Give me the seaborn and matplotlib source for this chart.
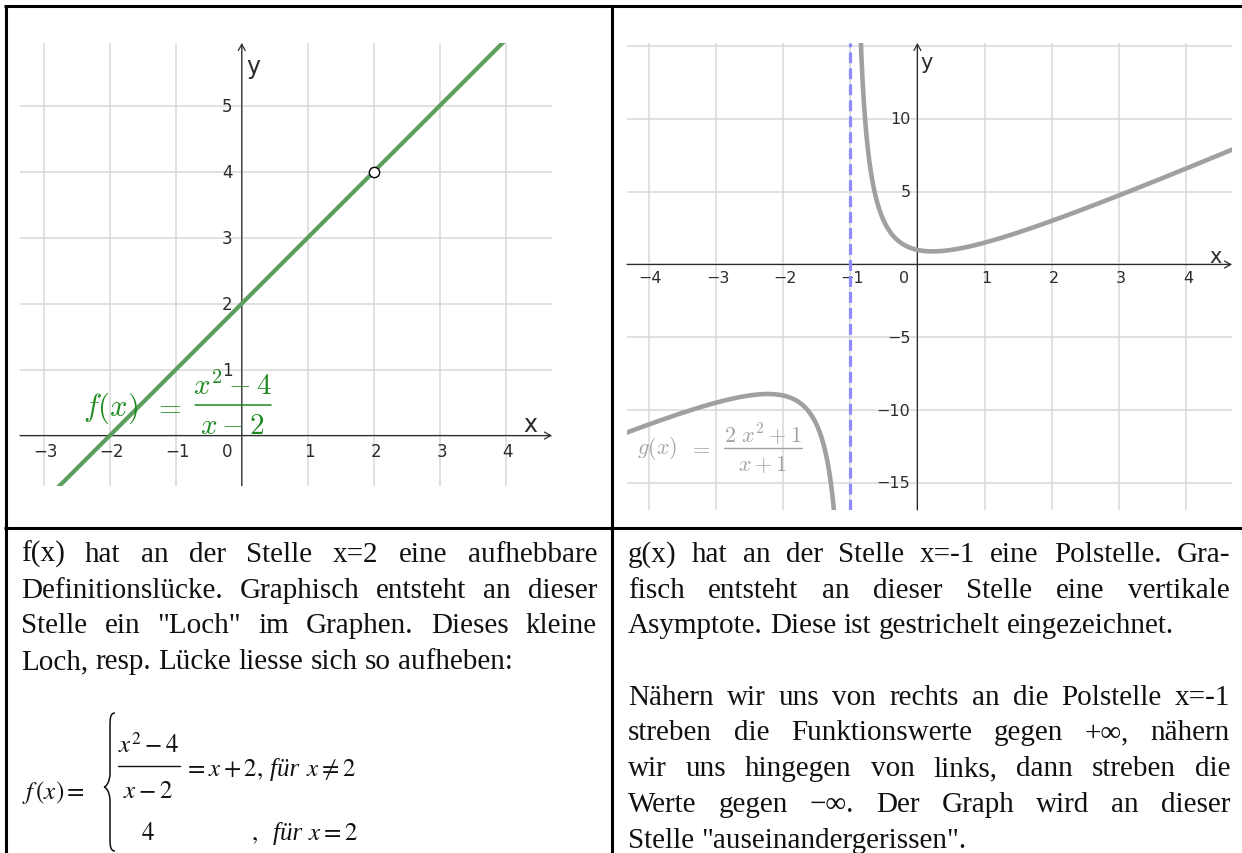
import numpy as np
import matplotlib
matplotlib.use("Agg")
import matplotlib.pyplot as plt
import matplotlib.transforms as mtransforms
from matplotlib.lines import Line2D
from matplotlib.path import Path
from matplotlib.patches import PathPatch
import seaborn as sns

# ---- the two rational functions (polynomial coefficients, highest power first) ----
f_numerator = [1, 0, -4]      # x^2 - 4
f_denominator = [1, -2]       # x - 2
f_gap_x = 2                   # removable gap of f
f_gap_value = 4               # value that closes the gap
g_numerator = [2, 0, 1]       # 2x^2 + 1
g_denominator = [1, 1]        # x + 1
g_pole_x = -1                 # pole of g

# ---- axes ranges, grid and tick labels ----
left_xlim = (-3.36, 4.70)
left_ylim = (-0.76, 5.95)
left_xgrid = [-3, -2, -1, 0, 1, 2, 3, 4]
left_ygrid = [0, 1, 2, 3, 4, 5]
left_xticks = [-3, -2, -1, 1, 2, 3, 4]
left_yticks = [1, 2, 3, 4, 5]

right_xlim = (-4.32, 4.68)
right_ylim = (-16.87, 15.22)
right_xgrid = [-4, -3, -2, -1, 0, 1, 2, 3, 4]
right_ygrid = [-15, -10, -5, 0, 5, 10, 15]
right_xticks = [-4, -3, -2, -1, 1, 2, 3, 4]
right_yticks = [-15, -10, -5, 5, 10]

# ---- explanatory text (line, justified?) ----
left_lines = [
    ("f(x) hat an der Stelle x=2 eine aufhebbare", True),
    ("Definitionslücke. Graphisch entsteht an dieser", True),
    ("Stelle ein \"Loch\" im Graphen. Dieses kleine", True),
    ("Loch, resp. Lücke liesse sich so aufheben:", False),
]
right_lines = [
    ("g(x) hat an der Stelle x=-1 eine Polstelle. Gra-", True),
    ("fisch entsteht an dieser Stelle eine vertikale", True),
    ("Asymptote. Diese ist gestrichelt eingezeichnet.", False),
    (None, False),
    ("Nähern wir uns von rechts an die Polstelle x=-1", True),
    ("streben die Funktionswerte gegen +∞, nähern", True),
    ("wir uns hingegen von links, dann streben die", True),
    ("Werte gegen \u2212\u221e. Der Graph wird an dieser", True),
    ("Stelle \"auseinandergerissen\".", False),
]

W, H = 1242, 854
GRID = "#d9d9d9"
AXC = "#2b2b2b"
GREEN_LINE = "#5c9f5c"
GREEN_TEXT = "#1f8a1f"
GREY_CURVE = "#a0a0a0"
GREY_TEXT = "#a3a3a3"
ASYM = "#8c8cff"
TXT = "#111111"
SERIF = ["Liberation Serif", "DejaVu Serif"]

sns.set_style("white")
plt.rcParams["font.family"] = ["DejaVu Sans"]
plt.rcParams["mathtext.fontset"] = "cm"

fig = plt.figure(figsize=(W / 100, H / 100), dpi=100)
renderer = fig.canvas.get_renderer()


def fx(px):
    return px / W


def fy(py):
    return 1 - py / H


def rational(num, den, x):
    return np.polyval(num, x) / np.polyval(den, x)


def setup_axes(ax, xlim, ylim, xgrid, ygrid, xticks, yticks,
               xlab_dy, ylab_dx, zero_dx, xname_off, yname_off, name_size, tick_size):
    ax.set_xlim(*xlim)
    ax.set_ylim(*ylim)
    ax.set_xticks(xgrid)
    ax.set_yticks(ygrid)
    ax.grid(True, color=GRID, linewidth=1.1)
    ax.set_axisbelow(True)
    ax.tick_params(length=0, labelbottom=False, labelleft=False)
    for s in ax.spines.values():
        s.set_visible(False)
    ax.set_facecolor("white")
    arrow = dict(arrowstyle="->,head_length=0.45,head_width=0.25",
                 color=AXC, lw=0.9, shrinkA=0, shrinkB=0)
    ax.annotate("", xy=(xlim[1], 0), xytext=(xlim[0], 0),
                arrowprops=arrow, annotation_clip=False, zorder=2)
    ax.annotate("", xy=(0, ylim[1]), xytext=(0, ylim[0]),
                arrowprops=arrow, annotation_clip=False, zorder=2)
    minus = lambda v: str(v).replace("-", "\u2212")
    for v in xticks:
        tr = mtransforms.offset_copy(ax.transData, fig=fig, x=2, y=-xlab_dy, units="dots")
        ax.text(v, 0, minus(v), transform=tr, ha="center", va="center",
                fontsize=tick_size, color=AXC)
    tr0 = mtransforms.offset_copy(ax.transData, fig=fig, x=-zero_dx, y=-xlab_dy, units="dots")
    ax.text(0, 0, "0", transform=tr0, ha="right", va="center", fontsize=tick_size, color=AXC)
    for v in yticks:
        tr = mtransforms.offset_copy(ax.transData, fig=fig, x=-ylab_dx, y=0, units="dots")
        ax.text(0, v, minus(v), transform=tr, ha="right", va="center",
                fontsize=tick_size, color=AXC)
    trx = mtransforms.offset_copy(ax.transData, fig=fig, x=xname_off[0], y=xname_off[1], units="dots")
    ax.text(xlim[1], 0, "x", transform=trx, ha="center", va="center",
            fontsize=name_size, color=AXC)
    try_ = mtransforms.offset_copy(ax.transData, fig=fig, x=yname_off[0], y=yname_off[1], units="dots")
    ax.text(0, ylim[1], "y", transform=try_, ha="center", va="center",
            fontsize=name_size, color=AXC)


# ================= left panel: f(x) =================
axL = fig.add_axes([fx(20), fy(486.7), (552 - 20) / W, (486.7 - 44) / H])
setup_axes(axL, left_xlim, left_ylim, left_xgrid, left_ygrid, left_xticks, left_yticks,
           xlab_dy=15.5, ylab_dx=9.5, zero_dx=9.5,
           xname_off=(-22, 11.5), yname_off=(12, -23), name_size=17, tick_size=12)

xf = np.linspace(left_xlim[0] - 0.1, left_xlim[1] + 0.1, 500)
xf = xf[np.abs(xf - f_gap_x) > 1e-9]
sns.lineplot(x=xf, y=rational(f_numerator, f_denominator, xf), ax=axL,
             color=GREEN_LINE, linewidth=3.0, sort=False, estimator=None, zorder=3)
sns.scatterplot(x=[f_gap_x], y=[f_gap_value], ax=axL, s=55, color="white",
                edgecolor="black", linewidth=1.0, zorder=5)

# equation label of f
fig.text(fx(111), fy(408), r"$f(x)$", color=GREEN_TEXT, fontsize=22, ha="center", va="center")
fig.text(fx(167), fy(407), r"$=$", color=GREEN_TEXT, fontsize=21, ha="center", va="center")
fig.text(fx(233), fy(386), r"$x^2-4$", color=GREEN_TEXT, fontsize=21, ha="center", va="center")
fig.text(fx(232), fy(426), r"$x-2$", color=GREEN_TEXT, fontsize=21, ha="center", va="center")
fig.add_artist(Line2D([fx(195), fx(271)], [fy(406), fy(406)], color=GREEN_TEXT, lw=1.1))

# ================= right panel: g(x) =================
axR = fig.add_axes([fx(627), fy(511), (1232 - 627) / W, (511 - 44) / H])
setup_axes(axR, right_xlim, right_ylim, right_xgrid, right_ygrid, right_xticks, right_yticks,
           xlab_dy=13.5, ylab_dx=7, zero_dx=8,
           xname_off=(-16, 8.5), yname_off=(9, -19), name_size=15, tick_size=11.5)

axR.axvline(g_pole_x, color=ASYM, linewidth=2.3, dashes=(3.4, 1.6), zorder=3)
x_right = g_pole_x + np.geomspace(0.08, right_xlim[1] - g_pole_x + 0.05, 600)
x_left = g_pole_x - np.geomspace(0.12, g_pole_x - right_xlim[0] + 0.05, 600)[::-1]
sns.lineplot(x=x_right, y=rational(g_numerator, g_denominator, x_right), ax=axR,
             color=GREY_CURVE, linewidth=3.3, sort=False, estimator=None, zorder=4)
sns.lineplot(x=x_left, y=rational(g_numerator, g_denominator, x_left), ax=axR,
             color=GREY_CURVE, linewidth=3.3, sort=False, estimator=None, zorder=4)

# equation label of g
fig.text(fx(657), fy(449), r"$g(x)$", color=GREY_TEXT, fontsize=16, ha="center", va="center")
fig.text(fx(700), fy(448), r"$=$", color=GREY_TEXT, fontsize=16, ha="center", va="center")
fig.text(fx(763), fy(434), r"$2\ x^2+1$", color=GREY_TEXT, fontsize=16, ha="center", va="center")
fig.text(fx(763), fy(465), r"$x+1$", color=GREY_TEXT, fontsize=16, ha="center", va="center")
fig.add_artist(Line2D([fx(724), fx(802)], [fy(449), fy(449)], color=GREY_TEXT, lw=1.0))

# ================= table frame =================
BW = 2.2
for (x0, y0, x1, y1) in [(4, 7, W, 7), (6, 7, 6, H), (612, 7, 612, H),
                         (4, 529, W, 529)]:
    fig.add_artist(Line2D([fx(x0), fx(x1)], [fy(y0), fy(y1)], color="black",
                          lw=BW, solid_capstyle="butt"))

# ================= justified paragraphs =================
TEXT_SIZE = 21
_a = fig.text(0, 0, "a a", fontsize=TEXT_SIZE, family=SERIF)
_b = fig.text(0, 0, "aa", fontsize=TEXT_SIZE, family=SERIF)
space_w = _a.get_window_extent(renderer).width - _b.get_window_extent(renderer).width
_a.remove()
_b.remove()


def paragraph(lines, x0, x1, y0, dy):
    for i, (line, full) in enumerate(lines):
        if line is None:
            continue
        yb = y0 + i * dy
        words = line.split(" ")
        arts = [fig.text(0, fy(yb), w, fontsize=TEXT_SIZE, family=SERIF, color=TXT,
                         ha="left", va="baseline") for w in words]
        widths = [a.get_window_extent(renderer).width for a in arts]
        gap = (x1 - x0 - sum(widths)) / (len(words) - 1) if (full and len(words) > 1) else space_w
        x = x0
        for a, w in zip(arts, widths):
            a.set_x(fx(x))
            x += w + gap


paragraph(left_lines, 21, 597, 562, 35.7)
paragraph(right_lines, 628, 1230, 562, 35.7)


# ================= piecewise definition of f =================
def chain(pieces, x0, yb):
    x = x0
    for s, kw in pieces:
        t = fig.text(fx(x), fy(yb), s, color=TXT, ha="left", va="baseline", **kw)
        x += t.get_window_extent(renderer).width


MATH = dict(fontsize=18, math_fontfamily="stix")
ITAL = dict(fontsize=18, family=SERIF, style="italic")

fig.text(fx(22), fy(799), r"$f\,(x) =$", color=TXT, ha="left", va="baseline", **MATH)
fig.text(fx(149), fy(753), r"$x^2-4$", color=TXT, ha="center", va="baseline", **MATH)
fig.text(fx(148), fy(798), r"$x-2$", color=TXT, ha="center", va="baseline", **MATH)
fig.add_artist(Line2D([fx(118), fx(180)], [fy(767), fy(767)], color=TXT, lw=1.0))
chain([(r"$= x+2,$", MATH)], 184, 776)
chain([("für ", ITAL), (r"$x \neq 2$", MATH)], 270, 776)
fig.text(fx(148), fy(840), r"$4$", color=TXT, ha="center", va="baseline", **MATH)
fig.text(fx(251), fy(840), r"$,$", color=TXT, ha="left", va="baseline", **MATH)
chain([("für ", ITAL), (r"$x = 2$", MATH)], 273, 840)

# curly brace of the case distinction
xe, xm, xt = 115, 110, 104
top, bot = 714, 852
mid = 788
verts = [(xe, top), (xm, top), (xm, top + 6), (xm, top + 14),
         (xm, mid - 14),
         (xm, mid - 5), (xt + 2, mid), (xt, mid),
         (xt + 2, mid), (xm, mid + 5), (xm, mid + 14),
         (xm, bot - 14),
         (xm, bot - 6), (xm, bot), (xe, bot)]
codes = [Path.MOVETO, Path.CURVE4, Path.CURVE4, Path.CURVE4,
         Path.LINETO,
         Path.CURVE4, Path.CURVE4, Path.CURVE4,
         Path.CURVE4, Path.CURVE4, Path.CURVE4,
         Path.LINETO,
         Path.CURVE4, Path.CURVE4, Path.CURVE4]
brace = Path([(fx(a), fy(b)) for a, b in verts], codes)
fig.add_artist(PathPatch(brace, transform=fig.transFigure, fill=False, lw=1.1, color=TXT))

fig.savefig("out.png", dpi=100, facecolor="white")
